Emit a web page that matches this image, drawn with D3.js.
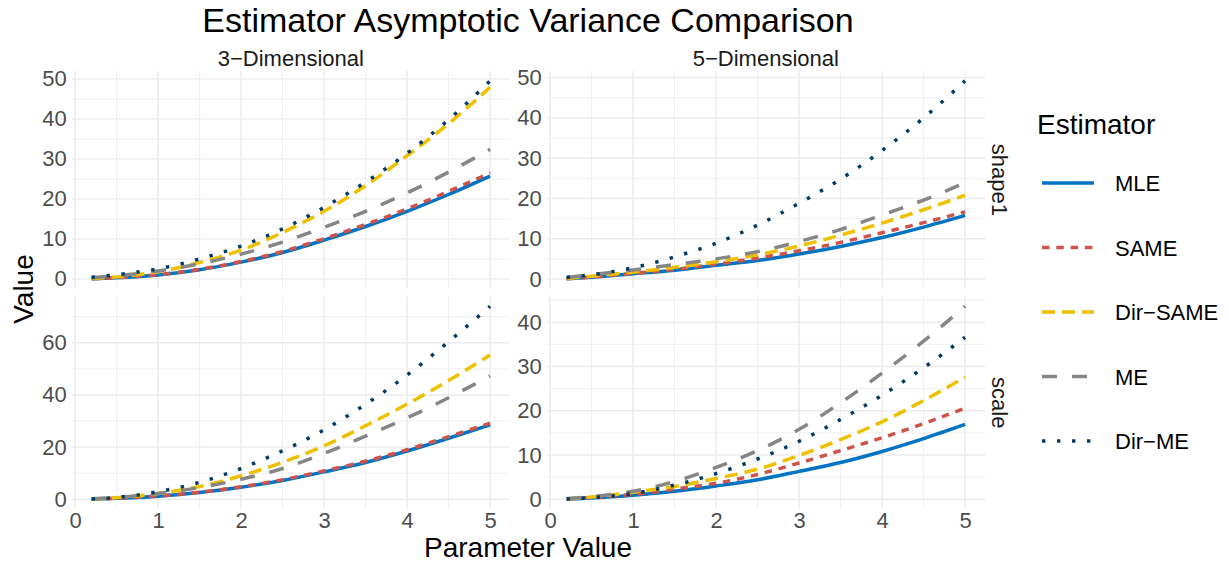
<!DOCTYPE html>
<html>
<head>
<meta charset="utf-8">
<script src="https://cdn.jsdelivr.net/npm/d3@7"></script>
<style>
body { margin: 0; background: #fff; }
text { font-family: "Liberation Sans", Arial, Helvetica, sans-serif; }
</style>
</head>
<body>
<svg id="chart" width="1229" height="565"></svg>
<script>
// parameter grid (x values)
var params = [0.2, 0.5, 1, 1.5, 2, 2.5, 3, 3.5, 4, 4.5, 5]
var estimators = ['MLE', 'SAME', 'Dir\u2212SAME', 'ME', 'Dir\u2212ME']
var dimLabels = ['3\u2212Dimensional', '5\u2212Dimensional']
var paramLabels = ['shape1', 'scale']
var xTicks = [0, 1, 2, 3, 4, 5]

// 3-dimensional, shape1
var mle3Shape     = [0.05, 0.3, 1.0, 2.3, 4.2, 6.6, 9.7, 13.1, 16.9, 21.1, 25.7]
var same3Shape    = [0.05, 0.32, 1.05, 2.4, 4.35, 6.85, 10.05, 13.6, 17.5, 21.9, 26.5]
var dirSame3Shape = [0.1, 0.5, 1.8, 4.1, 7.2, 11.6, 16.9, 23.3, 30.8, 38.8, 47.9]
var me3Shape      = [0.3, 0.8, 2.0, 3.8, 6.2, 9.2, 12.9, 16.9, 21.5, 26.7, 32.4]
var dirMe3Shape   = [0.4, 1.05, 2.5, 5.0, 8.2, 12.5, 17.9, 24.2, 31.4, 39.8, 49.5]

// 5-dimensional, shape1
var mle5Shape     = [0.08, 0.45, 1.3, 2.2, 3.4, 4.6, 6.2, 8.1, 10.3, 12.9, 15.8]
var same5Shape    = [0.08, 0.5, 1.4, 2.4, 3.7, 5.2, 7.0, 9.1, 11.5, 14.0, 16.7]
var dirSame5Shape = [0.1, 0.7, 1.7, 2.9, 4.3, 6.0, 8.2, 10.9, 13.9, 17.2, 20.8]
var me5Shape      = [0.4, 1.1, 2.25, 3.6, 5.0, 6.8, 9.3, 12.3, 15.9, 19.6, 23.9]
var dirMe5Shape   = [0.4, 1.05, 2.8, 5.5, 8.9, 13.4, 18.8, 24.8, 31.9, 40.0, 49.2]

// 3-dimensional, scale
var mle3Scale     = [0.05, 0.35, 1.2, 2.6, 4.6, 7.2, 10.5, 14.1, 18.5, 23.4, 28.5]
var same3Scale    = [0.05, 0.4, 1.3, 2.7, 4.8, 7.5, 10.9, 14.6, 19.0, 24.0, 29.2]
var dirSame3Scale = [0.1, 0.6, 2.2, 4.9, 9.0, 14.2, 20.5, 28.2, 36.5, 45.5, 55.3]
var me3Scale      = [0.2, 0.7, 2.2, 4.5, 7.7, 11.8, 17.6, 24.2, 31.2, 38.9, 47.3]
var dirMe3Scale   = [0.1, 0.7, 2.9, 6.5, 11.8, 18.6, 26.6, 36.4, 47.6, 60.4, 74.0]

// 5-dimensional, scale
var mle5Scale     = [0.03, 0.3, 0.9, 1.8, 3.0, 4.4, 6.3, 8.3, 10.8, 13.7, 16.9]
var same5Scale    = [0.05, 0.4, 1.1, 2.3, 3.6, 5.6, 8.2, 11.0, 13.9, 17.1, 20.6]
var dirSame5Scale = [0.05, 0.5, 1.6, 2.9, 4.7, 6.8, 9.9, 13.5, 17.5, 22.3, 27.6]
var me5Scale      = [0.2, 0.6, 1.8, 4.0, 7.2, 11.0, 15.8, 21.8, 28.5, 35.7, 43.6]
var dirMe5Scale   = [0.05, 0.4, 1.3, 3.2, 5.8, 9.1, 13.1, 18.0, 23.5, 29.7, 36.6]

var colors = ['#0073C2', '#CD534C', '#EFC000', '#868686', '#003C67']
var dashes = [null, '7.5,6.8', '13,7', '15,15', '3.4,11.6']

var panels = [
  { row: 0, col: 0, series: [mle3Shape, same3Shape, dirSame3Shape, me3Shape, dirMe3Shape] },
  { row: 0, col: 1, series: [mle5Shape, same5Shape, dirSame5Shape, me5Shape, dirMe5Shape] },
  { row: 1, col: 0, series: [mle3Scale, same3Scale, dirSame3Scale, me3Scale, dirMe3Scale] },
  { row: 1, col: 1, series: [mle5Scale, same5Scale, dirSame5Scale, me5Scale, dirMe5Scale] }
]

var colX = [[71.7, 510], [546.7, 985]]
var rowY = [[71, 288.6], [296.6, 508.8]]

var svg = d3.select('#chart')
var lw = 3.5
var tickFont = '22px'

function expand(lo, hi) {
  var pad = (hi - lo) * 0.05
  return [lo - pad, hi + pad]
}

var xScales = colX.map(function(r) {
  return d3.scaleLinear().domain(expand(d3.min(params), d3.max(params))).range(r)
})

panels.forEach(function(p) {
  var x = xScales[p.col]
  var all = d3.merge(p.series)
  var y = d3.scaleLinear()
    .domain(expand(d3.min(all), d3.max(all)))
    .range([rowY[p.row][1], rowY[p.row][0]])

  var g = svg.append('g')
  var x0 = colX[p.col][0], x1 = colX[p.col][1]
  var y0 = rowY[p.row][0], y1 = rowY[p.row][1]

  var yt = y.ticks(5)
  var step = yt[1] - yt[0]
  var yMinor = []
  for (var v = yt[0] - step / 2; v <= y.domain()[1]; v += step) {
    if (v >= y.domain()[0]) yMinor.push(v)
  }
  var xMinor = [0.5, 1.5, 2.5, 3.5, 4.5]

  // minor grid
  g.selectAll('.ym').data(yMinor).enter().append('line')
    .attr('x1', x0).attr('x2', x1)
    .attr('y1', function(d) { return y(d) }).attr('y2', function(d) { return y(d) })
    .attr('stroke', '#EBEBEB').attr('stroke-width', 0.8)
  g.selectAll('.xm').data(xMinor).enter().append('line')
    .attr('y1', y0).attr('y2', y1)
    .attr('x1', function(d) { return x(d) }).attr('x2', function(d) { return x(d) })
    .attr('stroke', '#EBEBEB').attr('stroke-width', 0.8)
  // major grid
  g.selectAll('.yg').data(yt).enter().append('line')
    .attr('x1', x0).attr('x2', x1)
    .attr('y1', function(d) { return y(d) }).attr('y2', function(d) { return y(d) })
    .attr('stroke', '#EBEBEB').attr('stroke-width', 1.4)
  g.selectAll('.xg').data(xTicks).enter().append('line')
    .attr('y1', y0).attr('y2', y1)
    .attr('x1', function(d) { return x(d) }).attr('x2', function(d) { return x(d) })
    .attr('stroke', '#EBEBEB').attr('stroke-width', 1.4)

  // y axis labels
  var yAxis = g.append('g')
    .attr('transform', 'translate(' + x0 + ',0)')
    .call(d3.axisLeft(y).tickValues(yt).tickFormat(d3.format('d')).tickSize(0).tickPadding(5))
  yAxis.select('.domain').remove()
  yAxis.selectAll('text').attr('font-size', tickFont).attr('fill', '#4D4D4D')
    .style('font-family', '"Liberation Sans", Arial, sans-serif')

  if (p.row == 1) {
    var xAxis = g.append('g')
      .attr('transform', 'translate(0,' + y1 + ')')
      .call(d3.axisBottom(x).tickValues(xTicks).tickFormat(d3.format('d')).tickSize(0).tickPadding(4))
    xAxis.select('.domain').remove()
    xAxis.selectAll('text').attr('font-size', tickFont).attr('fill', '#4D4D4D')
      .style('font-family', '"Liberation Sans", Arial, sans-serif')
  }

  var line = d3.line()
    .x(function(d, i) { return x(params[i]) })
    .y(function(d) { return y(d) })
    .curve(d3.curveMonotoneX)

  p.series.forEach(function(s, k) {
    g.append('path')
      .datum(s)
      .attr('d', line)
      .attr('fill', 'none')
      .attr('stroke', colors[k])
      .attr('stroke-width', lw)
      .attr('stroke-dasharray', dashes[k])
  })
})

// strips
dimLabels.forEach(function(t, i) {
  svg.append('text')
    .attr('x', (colX[i][0] + colX[i][1]) / 2)
    .attr('y', 66)
    .attr('text-anchor', 'middle')
    .attr('font-size', '22px')
    .attr('fill', '#1A1A1A')
    .text(t)
})
paramLabels.forEach(function(t, i) {
  var cy = (rowY[i][0] + rowY[i][1]) / 2
  svg.append('text')
    .attr('transform', 'translate(992,' + cy + ') rotate(90)')
    .attr('text-anchor', 'middle')
    .attr('font-size', '22px')
    .attr('fill', '#1A1A1A')
    .text(t)
})

// titles
svg.append('text')
  .attr('x', 528).attr('y', 32)
  .attr('text-anchor', 'middle')
  .attr('font-size', '34px')
  .attr('fill', '#000')
  .text('Estimator Asymptotic Variance Comparison')

svg.append('text')
  .attr('x', 528).attr('y', 557)
  .attr('text-anchor', 'middle')
  .attr('font-size', '28px')
  .attr('fill', '#000')
  .text('Parameter Value')

svg.append('text')
  .attr('transform', 'translate(33,289) rotate(-90)')
  .attr('text-anchor', 'middle')
  .attr('font-size', '28px')
  .attr('fill', '#000')
  .text('Value')

// legend
var legend = svg.append('g')
legend.append('text')
  .attr('x', 1037).attr('y', 134)
  .attr('font-size', '28px')
  .attr('fill', '#000')
  .text('Estimator')

var legendY = d3.scalePoint().domain(estimators).range([183, 441])
estimators.forEach(function(e, k) {
  var ly = legendY(e)
  legend.append('line')
    .attr('x1', 1042).attr('x2', 1094)
    .attr('y1', ly).attr('y2', ly)
    .attr('stroke', colors[k])
    .attr('stroke-width', lw)
    .attr('stroke-dasharray', dashes[k])
  legend.append('text')
    .attr('x', 1115).attr('y', ly + 8)
    .attr('font-size', '22px')
    .attr('fill', '#000')
    .text(e)
})
</script>
</body>
</html>
